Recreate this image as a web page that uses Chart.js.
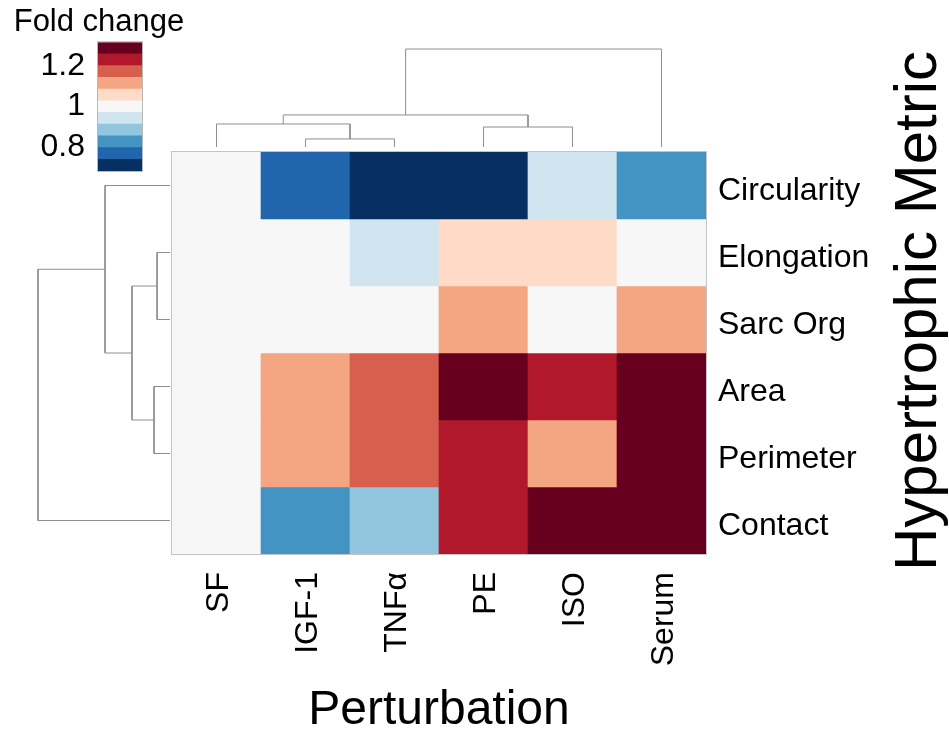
<!DOCTYPE html>
<html>
<head>
<meta charset="utf-8">
<script src="https://cdn.jsdelivr.net/npm/chart.js@4.4.1/dist/chart.umd.min.js"></script>
<style>
html,body{margin:0;padding:0;background:#fff;}
#wrap{position:relative;width:949px;height:737px;overflow:hidden;background:#fff;}
#wrap canvas{position:absolute;left:0;top:0;}
</style>
</head>
<body>
<div id="wrap">
  <canvas id="main" width="949" height="737"></canvas>
  <canvas id="colDendro" width="949" height="152"></canvas>
  <canvas id="rowDendro" width="172" height="737"></canvas>
  <canvas id="colorbar" width="198" height="180"></canvas>
</div>
<script>
// ---------------- DATA ----------------
const perturbations = ['SF', 'IGF-1', 'TNFα', 'PE', 'ISO', 'Serum'];
const metrics = ['Circularity', 'Elongation', 'Sarc Org', 'Area', 'Perimeter', 'Contact'];

// fold change per metric, in perturbation order
const circularity = [1.00, 0.77, 0.70, 0.69, 0.94, 0.83];
const elongation  = [1.00, 1.00, 0.94, 1.06, 1.05, 1.00];
const sarcOrg     = [1.00, 1.01, 0.99, 1.12, 1.00, 1.12];
const area        = [1.00, 1.12, 1.17, 1.34, 1.25, 1.38];
const perimeter   = [1.00, 1.11, 1.18, 1.24, 1.12, 1.31];
const contact     = [1.00, 0.82, 0.88, 1.25, 1.30, 1.33];
const foldChange = [circularity, elongation, sarcOrg, area, perimeter, contact];

// colour scale (RdBu, reversed), 11 bins
const colorBins = ['#053061','#2166ac','#4393c3','#92c5de','#d1e5f0','#f7f7f7',
                   '#fddbc7','#f4a582','#d6604d','#b2182b','#67001f'];
const scaleMin = 0.68;
const scaleMax = 1.32;
const colorbarTicks = [0.8, 1, 1.2];

// linkage: [childA, childB, height]; leaves 0..5 in display order, new nodes 6..10
const colLinkage = [[1, 2, 0.082], [0, 6, 0.235], [3, 4, 0.204], [7, 8, 0.327], [9, 5, 1.0]];
const rowLinkage = [[1, 2, 0.098], [3, 4, 0.121], [6, 7, 0.288], [0, 8, 0.492], [9, 5, 1.0]];

// ---------------- HELPERS ----------------
const FONT = "'Liberation Sans', Arial, Helvetica, sans-serif";
Chart.defaults.font.family = FONT;
Chart.defaults.color = '#000';

function binColor(v) {
  const w = (scaleMax - scaleMin) / colorBins.length;
  let i = Math.floor((v - scaleMin) / w);
  i = Math.max(0, Math.min(colorBins.length - 1, i));
  return colorBins[i];
}

function dendroSegments(linkage, nLeaves) {
  const pos = [], hgt = [];
  for (let i = 0; i < nLeaves; i++) { pos[i] = i + 0.5; hgt[i] = 0; }
  return linkage.map(([a, b, h], k) => {
    const id = nLeaves + k;
    pos[id] = (pos[a] + pos[b]) / 2;
    hgt[id] = h;
    return [[pos[a], hgt[a]], [pos[a], h], [pos[b], h], [pos[b], hgt[b]]];
  });
}

const DENDRO_COLOR = '#8e8e8e';

function makeFrame(color) {
  return {
    id: 'frame',
    afterDatasetsDraw(chart) {
      const {ctx, chartArea: a} = chart;
      ctx.save();
      ctx.strokeStyle = color;
      ctx.lineWidth = 1;
      ctx.strokeRect(a.left - 0.5, a.top - 0.5, a.right - a.left + 1, a.bottom - a.top + 1);
      ctx.restore();
    }
  };
}

// ---------------- MAIN HEATMAP ----------------
const sideTitlePlugin = {
  id: 'sideTitle',
  afterDraw(chart) {
    const {ctx} = chart;
    ctx.save();
    ctx.translate(919, 311);
    ctx.rotate(-Math.PI / 2);
    ctx.font = '60px ' + FONT;
    ctx.fillStyle = '#000';
    ctx.textAlign = 'center';
    ctx.textBaseline = 'middle';
    ctx.fillText('Hypertrophic Metric', 0, 0);
    ctx.restore();
  }
};

new Chart(document.getElementById('main'), {
  type: 'bar',
  data: {
    labels: perturbations,
    datasets: metrics.map((m, r) => ({
      label: m,
      data: perturbations.map(() => [r, r + 1]),
      backgroundColor: foldChange[r].map(binColor),
      borderWidth: 0,
      barPercentage: 1,
      categoryPercentage: 1,
      grouped: false
    }))
  },
  options: {
    responsive: false,
    animation: false,
    events: [],
    layout: {padding: {left: 172, top: 152, right: 0, bottom: 0}},
    plugins: {legend: {display: false}, tooltip: {enabled: false}},
    scales: {
      x: {
        position: 'bottom',
        grid: {display: false, drawTicks: false},
        border: {display: false},
        ticks: {color: '#000', font: {size: 32}, maxRotation: 90, minRotation: 90, padding: 18, labelOffset: 3, autoSkip: false},
        title: {display: true, text: 'Perturbation', color: '#000', font: {size: 48}, padding: {top: 0, bottom: -3}},
        afterFit(s) { s.height = 183; }
      },
      y: {
        position: 'right',
        min: 0, max: 6, reverse: true,
        grid: {display: false, drawTicks: false},
        border: {display: false},
        afterBuildTicks(s) { s.ticks = metrics.map((m, i) => ({value: i + 0.5})); },
        ticks: {color: '#000', font: {size: 32}, padding: 12, labelOffset: 6, callback: (v) => metrics[Math.floor(v)]},
        afterFit(s) { s.width = 243; }
      }
    }
  },
  plugins: [makeFrame('#c4c4c4'), sideTitlePlugin]
});

// ---------------- COLUMN DENDROGRAM ----------------
new Chart(document.getElementById('colDendro'), {
  type: 'line',
  data: {
    datasets: dendroSegments(colLinkage, perturbations.length).map(seg => ({
      data: seg.map(([p, h]) => ({x: p, y: h})),
      borderColor: DENDRO_COLOR, borderWidth: 1, pointRadius: 0, fill: false, tension: 0, clip: false
    }))
  },
  options: {
    responsive: false, animation: false, events: [],
    layout: {padding: {left: 172, right: 243, top: 49, bottom: 5}},
    plugins: {legend: {display: false}, tooltip: {enabled: false}},
    scales: {
      x: {type: 'linear', min: 0, max: perturbations.length, display: false},
      y: {type: 'linear', min: 0, max: 1, display: false}
    }
  }
});

// ---------------- ROW DENDROGRAM ----------------
new Chart(document.getElementById('rowDendro'), {
  type: 'line',
  data: {
    datasets: dendroSegments(rowLinkage, metrics.length).map(seg => ({
      data: seg.map(([p, h]) => ({x: h, y: p})),
      borderColor: DENDRO_COLOR, borderWidth: 1, pointRadius: 0, fill: false, tension: 0, clip: false
    }))
  },
  options: {
    responsive: false, animation: false, events: [],
    layout: {padding: {left: 38, right: 2, top: 152, bottom: 183}},
    plugins: {legend: {display: false}, tooltip: {enabled: false}},
    scales: {
      x: {type: 'linear', min: 0, max: 1, reverse: true, display: false},
      y: {type: 'linear', min: 0, max: metrics.length, reverse: true, display: false}
    }
  }
});

// ---------------- COLORBAR ----------------
const binW = (scaleMax - scaleMin) / colorBins.length;
new Chart(document.getElementById('colorbar'), {
  type: 'bar',
  data: {
    labels: [''],
    datasets: colorBins.map((c, i) => ({
      data: [[scaleMin + i * binW, scaleMin + (i + 1) * binW]],
      backgroundColor: c, borderWidth: 0,
      barPercentage: 1, categoryPercentage: 1, grouped: false
    }))
  },
  options: {
    responsive: false, animation: false, events: [],
    layout: {padding: {left: 0, right: 0, top: 0, bottom: 9}},
    plugins: {
      legend: {display: false}, tooltip: {enabled: false},
      title: {display: true, text: 'Fold change', color: '#000', font: {size: 31, weight: 'normal', lineHeight: 1.2}, padding: {top: 4, bottom: 1}}
    },
    scales: {
      x: {display: false},
      y: {
        position: 'left', min: scaleMin, max: scaleMax,
        grid: {display: false, drawTicks: false},
        border: {display: false},
        afterBuildTicks(s) { s.ticks = colorbarTicks.map(v => ({value: v})); },
        ticks: {color: '#000', font: {size: 32}, padding: 13, callback: (v) => String(v)},
        afterFit(s) { s.width = 98; s.paddingTop = 0; s.paddingBottom = 0; }
      },
      spacer: {
        type: 'linear', position: 'right', min: scaleMin, max: scaleMax,
        grid: {display: false, drawTicks: false},
        border: {display: false},
        ticks: {display: false},
        afterFit(s) { s.width = 56; s.paddingTop = 0; s.paddingBottom = 0; }
      }
    }
  },
  plugins: [makeFrame('#b8b8b8')]
});
</script>
</body>
</html>
